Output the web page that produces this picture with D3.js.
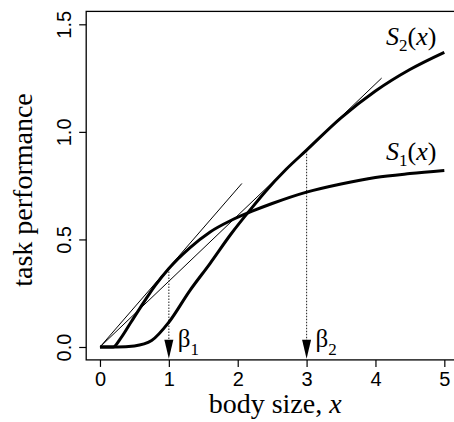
<!DOCTYPE html>
<html>
<head>
<meta charset="utf-8">
<script src="https://cdn.jsdelivr.net/npm/d3@7"></script>
<style>
  body { margin: 0; background: #fff; }
  svg { display: block; }
</style>
</head>
<body>
<div id="chart"></div>
<script>
// curves
let s1X = [0, 0.19, 0.3, 0.45, 0.6, 0.8, 1, 1.3, 1.6, 1.9, 2.2, 2.5, 3, 3.5, 4, 4.5, 5]
let s1Y = [0, 0, 0.04, 0.115, 0.19, 0.285, 0.365, 0.46, 0.535, 0.588, 0.63, 0.667, 0.72, 0.758, 0.788, 0.806, 0.82]
let s2X = [0, 0.25, 0.5, 0.75, 1, 1.3, 1.6, 1.9, 2.2, 2.4, 2.7, 3, 3.5, 4, 4.5, 5]
let s2Y = [0, 0, 0.005, 0.03, 0.115, 0.26, 0.389, 0.524, 0.645, 0.722, 0.825, 0.915, 1.065, 1.19, 1.29, 1.37]

// tangents through the origin (end points)
let tangentEndX = [2.06, 4.09]
let tangentEndY = [0.76, 1.25]

// optimal sizes and their performance
let betaX = [1, 3]
let betaY = [0.365, 0.912]
let betaSub = ["1", "2"]

let xTicks = [0, 1, 2, 3, 4, 5]
let yTicks = [0, 0.5, 1.0, 1.5]

const width = 454, height = 422;
const svg = d3.select("#chart").append("svg")
    .attr("width", width)
    .attr("height", height);

const x = d3.scaleLinear().domain([-0.2, 5.2]).range([86.2, 458.1]);
const y = d3.scaleLinear().domain([-0.06, 1.56]).range([359.9, 11.4]);

const serif = "'Liberation Serif', 'Times New Roman', serif";
const sans = "'Liberation Sans', Arial, Helvetica, sans-serif";

// box (right side falls outside the picture)
svg.append("rect")
    .attr("x", x(-0.2))
    .attr("y", y(1.56))
    .attr("width", x(5.2) - x(-0.2))
    .attr("height", y(-0.06) - y(1.56))
    .attr("fill", "none")
    .attr("stroke", "#000")
    .attr("stroke-width", 1.3);

// x axis
const gx = svg.append("g")
    .attr("transform", "translate(0," + y(-0.06) + ")")
    .call(d3.axisBottom(x).tickValues(xTicks).tickFormat(d3.format("d")).tickSize(7).tickSizeOuter(0));
gx.select(".domain").remove();
gx.selectAll(".tick line").attr("stroke", "#000").attr("stroke-width", 1.2);
gx.selectAll(".tick text")
    .attr("y", 26).attr("dy", 0)
    .attr("font-family", sans).attr("font-size", 20).attr("fill", "#000");

// y axis
const gy = svg.append("g")
    .attr("transform", "translate(" + x(-0.2) + ",0)")
    .call(d3.axisLeft(y).tickValues(yTicks).tickFormat(d3.format(".1f")).tickSize(7).tickSizeOuter(0));
gy.select(".domain").remove();
gy.selectAll(".tick line").attr("stroke", "#000").attr("stroke-width", 1.2);
gy.selectAll(".tick text")
    .attr("transform", "rotate(-90)")
    .attr("x", 0).attr("y", -15).attr("dy", 0)
    .attr("text-anchor", "middle")
    .attr("font-family", sans).attr("font-size", 20).attr("fill", "#000");

// axis titles
svg.append("text")
    .attr("x", (x(0) + x(5)) / 2 + 3)
    .attr("y", 413)
    .attr("text-anchor", "middle")
    .attr("font-family", serif)
    .attr("font-size", 28)
    .html("body size, <tspan font-style='italic'>x</tspan>");

svg.append("text")
    .attr("transform", "translate(32," + 190 + ") rotate(-90)")
    .attr("text-anchor", "middle")
    .attr("font-family", serif)
    .attr("font-size", 28)
    .text("task performance");

// thin tangent lines
svg.append("g").selectAll("line")
    .data(tangentEndX)
    .enter().append("line")
    .attr("x1", x(0)).attr("y1", y(0))
    .attr("x2", d => x(d))
    .attr("y2", (d, i) => y(tangentEndY[i]))
    .attr("stroke", "#000")
    .attr("stroke-width", 1);

// dotted drop lines and arrow heads
const tipY = y(-0.055);
svg.append("g").selectAll("line")
    .data(betaX)
    .enter().append("line")
    .attr("x1", d => x(d)).attr("x2", d => x(d))
    .attr("y1", (d, i) => y(betaY[i]))
    .attr("y2", tipY - 12)
    .attr("stroke", "#333")
    .attr("stroke-width", 1.1)
    .attr("stroke-dasharray", "1.5,1.5");

svg.append("g").selectAll("path")
    .data(betaX)
    .enter().append("path")
    .attr("d", d => "M" + (x(d) - 4.5) + "," + (tipY - 19) + "L" + (x(d) + 4.5) + "," + (tipY - 19) + "L" + x(d) + "," + tipY + "Z")
    .attr("fill", "#000");

svg.append("g").selectAll("text")
    .data(betaX)
    .enter().append("text")
    .attr("x", d => x(d) + 9)
    .attr("y", 347)
    .attr("font-family", serif)
    .attr("font-size", 25)
    .html((d, i) => "β<tspan font-size='17' dy='8'>" + betaSub[i] + "</tspan>");

// thick curves
const line = d3.line()
    .x(d => x(d[0]))
    .y(d => y(d[1]))
    .curve(d3.curveMonotoneX);

svg.append("path")
    .datum(s1X.map((d, i) => [d, s1Y[i]]))
    .attr("d", line)
    .attr("fill", "none")
    .attr("stroke", "#000")
    .attr("stroke-width", 3);

svg.append("path")
    .datum(s2X.map((d, i) => [d, s2Y[i]]))
    .attr("d", line)
    .attr("fill", "none")
    .attr("stroke", "#000")
    .attr("stroke-width", 3);

// curve labels
function curveLabel(sub, px, py) {
    svg.append("text")
        .attr("x", px)
        .attr("y", py)
        .attr("font-family", serif)
        .attr("font-size", 26)
        .html("<tspan font-style='italic'>S</tspan><tspan font-size='17' dy='6'>" + sub +
              "</tspan><tspan dy='-6'>(</tspan><tspan font-style='italic'>x</tspan>)");
}
curveLabel("2", 386, 45);
curveLabel("1", 386, 160);
</script>
</body>
</html>
